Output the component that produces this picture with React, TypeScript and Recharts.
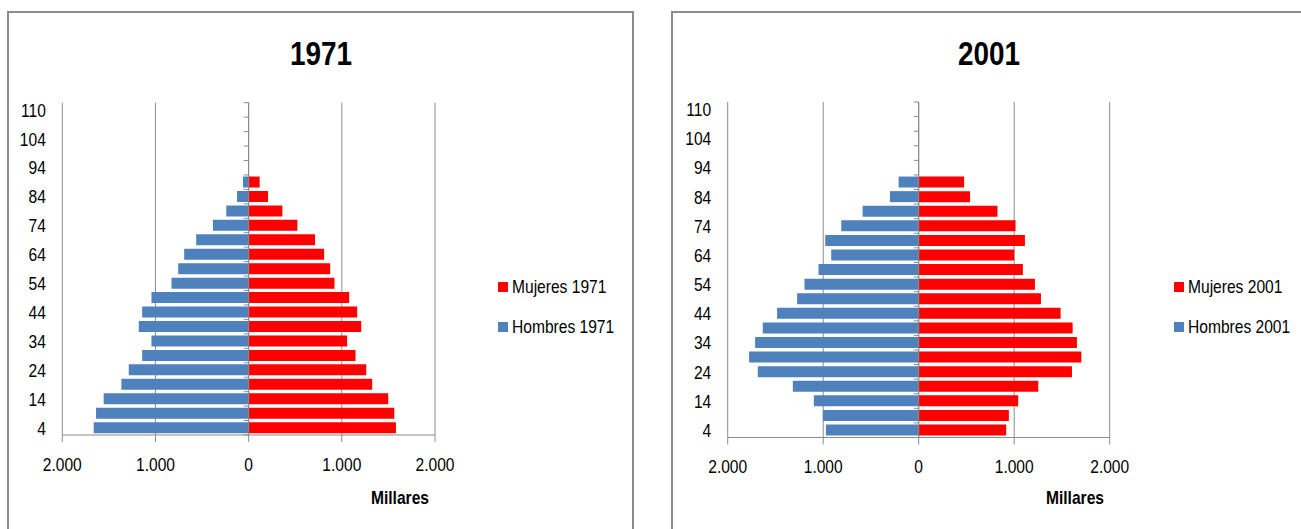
import React from 'react';
import { BarChart, Bar, XAxis, YAxis, CartesianGrid, ReferenceLine, Legend } from 'recharts';

// Age groups (upper bound of each five-year band, last one open-ended)
const ageGroups = ['4', '9', '14', '19', '24', '29', '34', '39', '44', '49', '54', '59', '64', '69', '74', '79', '84', '89', '94', '99', '104', '109', '110'];

// Population in thousands, youngest group first
const hombres1971 = [1663, 1638, 1556, 1366, 1287, 1143, 1043, 1179, 1143, 1043, 828, 756, 692, 563, 383, 240, 125, 61, 0, 0, 0, 0, 0];
const mujeres1971 = [1581, 1563, 1498, 1326, 1262, 1147, 1057, 1208, 1165, 1079, 921, 875, 810, 713, 523, 362, 208, 118, 0, 0, 0, 0, 0];
const hombres2001 = [972, 1003, 1098, 1318, 1685, 1776, 1713, 1633, 1483, 1273, 1196, 1049, 916, 979, 811, 587, 301, 210, 0, 0, 0, 0, 0];
const mujeres2001 = [916, 944, 1042, 1252, 1605, 1703, 1657, 1612, 1486, 1280, 1217, 1091, 1000, 1112, 1014, 825, 538, 476, 0, 0, 0, 0, 0];

const xTicks = [-2000, -1000, 0, 1000, 2000];

// Liberation Sans squeezed horizontally stands in for a narrow sans
const FONT = "'Liberation Sans', Arial, sans-serif";
const NARROW = 0.82;
const GRAY = '#8c8c8c';
const BLUE = '#4f81bd';
const RED = '#ff0000';
const TICK_FONT_SIZE = 19;

type Row = { age: string; hombres: number; mujeres: number };

const buildRows = (men: number[], women: number[]): Row[] =>
  ageGroups.map((age, i) => ({ age, hombres: -(men[i] ?? 0), mujeres: women[i] ?? 0 }));

// Absolute value with a dot as thousands separator (2.000, 1.000, 0 ...)
const formatThousands = (v: number) => {
  const a = Math.abs(v);
  if (a < 1000) return String(a);
  return `${Math.floor(a / 1000)}.${String(a % 1000).padStart(3, '0')}`;
};

const ValueTick = (props: any) => {
  const { x, y, payload } = props;
  return (
    <text
      transform={`translate(${x},${y}) scale(${NARROW},1)`}
      textAnchor="middle"
      dy="0.71em"
      fontFamily={FONT}
      fontSize={TICK_FONT_SIZE}
      fill="#000"
    >
      {formatThousands(Number(payload.value))}
    </text>
  );
};

const AgeTick = (props: any) => {
  const { x, y, payload } = props;
  return (
    <text
      transform={`translate(${x},${y}) scale(${NARROW},1)`}
      textAnchor="end"
      dy="0.355em"
      fontFamily={FONT}
      fontSize={TICK_FONT_SIZE}
      fill="#000"
    >
      {payload.value}
    </text>
  );
};

// Vertical category axis at zero with tick marks between the age bands
const CenterAxis = (props: any) => {
  const { x1, y1, y2 } = props;
  const top = Math.min(y1, y2);
  const bottom = Math.max(y1, y2);
  const step = (bottom - top) / ageGroups.length;
  const marks = [];
  for (let i = 0; i <= ageGroups.length; i++) {
    const y = top + i * step;
    marks.push(<line key={i} x1={x1 - 5} x2={x1} y1={y} y2={y} stroke={GRAY} strokeWidth={1} />);
  }
  return (
    <g>
      <line x1={x1} x2={x1} y1={top} y2={bottom} stroke={GRAY} strokeWidth={1} />
      {marks}
    </g>
  );
};

const PyramidLegend = (props: any) => {
  const items = [...(props.payload || [])].reverse();
  return (
    <div style={{ fontFamily: FONT, fontSize: TICK_FONT_SIZE, color: '#000' }}>
      {items.map((e: any, i: number) => (
        <div
          key={e.value}
          style={{ display: 'flex', alignItems: 'center', height: 20, marginBottom: i === 0 ? 19.5 : 0, whiteSpace: 'nowrap' }}
        >
          <span style={{ display: 'inline-block', width: 10, height: 10, background: e.color, marginRight: 4, flex: 'none' }} />
          <span style={{ display: 'inline-block', transform: `scaleX(${NARROW})`, transformOrigin: 'left center' }}>
            {e.value}
          </span>
        </div>
      ))}
    </div>
  );
};

type PanelProps = {
  year: string;
  rows: Row[];
  left: number;
  width: number;
  plotLeft: number;
  plotRight: number;
  plotTop: number;
  plotBottom: number;
  titleX: number;
  unitX: number;
  unitY: number;
  legendX: number;
  legendY: number;
};

const HEIGHT = 529;
const X_AXIS_HEIGHT = 40;

const captionStyle = (x: number, y: number, size: number): React.CSSProperties => ({
  position: 'absolute',
  left: x,
  top: y,
  transform: `translate(-50%, -50%) scaleX(${NARROW})`,
  fontFamily: FONT,
  fontWeight: 'bold',
  fontSize: size,
  lineHeight: 1,
  color: '#000',
  whiteSpace: 'nowrap',
});

const Pyramid = (p: PanelProps) => {
  const margin = {
    top: p.plotTop,
    right: p.width - p.plotRight,
    bottom: HEIGHT - p.plotBottom - X_AXIS_HEIGHT,
    left: 0,
  };
  return (
    <div style={{ position: 'absolute', left: p.left, top: 0, width: p.width, height: HEIGHT }}>
      <BarChart
        width={p.width}
        height={HEIGHT}
        data={p.rows}
        layout="vertical"
        stackOffset="sign"
        barCategoryGap="11%"
        margin={margin}
      >
        <CartesianGrid horizontal={false} vertical stroke={GRAY} strokeWidth={1} />
        <XAxis
          type="number"
          domain={[-2000, 2000]}
          ticks={xTicks}
          height={X_AXIS_HEIGHT}
          axisLine={{ stroke: GRAY }}
          tickLine={{ stroke: GRAY }}
          tickSize={7}
          tickMargin={15.5}
          tick={ValueTick}
          allowDataOverflow
        />
        <YAxis
          type="category"
          dataKey="age"
          reversed
          width={p.plotLeft}
          interval={1}
          axisLine={false}
          tickLine={false}
          tickSize={0}
          tickMargin={16.5}
          tick={AgeTick}
        />
        <Bar dataKey="hombres" name={`Hombres ${p.year}`} stackId="pop" fill={BLUE} isAnimationActive={false} />
        <Bar dataKey="mujeres" name={`Mujeres ${p.year}`} stackId="pop" fill={RED} isAnimationActive={false} />
        <ReferenceLine x={0} stroke={GRAY} shape={CenterAxis} />
        <Legend
          layout="vertical"
          align="center"
          verticalAlign="middle"
          content={PyramidLegend}
          wrapperStyle={{ left: p.legendX, top: p.legendY, width: 140, height: 'auto' }}
        />
      </BarChart>
      <div style={captionStyle(p.titleX, 53.3, 34)}>{p.year}</div>
      <div style={captionStyle(p.unitX, p.unitY, 19)}>Millares</div>
    </div>
  );
};

export default function App() {
  const rows1971 = buildRows(hombres1971, mujeres1971);
  const rows2001 = buildRows(hombres2001, mujeres2001);
  return (
    <div
      style={{
        position: 'absolute',
        left: 0,
        top: 0,
        width: 1301,
        height: HEIGHT,
        overflow: 'hidden',
        background: '#fff',
      }}
    >
      <div
        style={{
          position: 'absolute',
          left: 7,
          top: 11,
          width: 627,
          height: 560,
          border: `2px solid ${GRAY}`,
          boxSizing: 'border-box',
        }}
      />
      <div
        style={{
          position: 'absolute',
          left: 671,
          top: 11,
          width: 700,
          height: 560,
          border: `2px solid ${GRAY}`,
          boxSizing: 'border-box',
        }}
      />
      <Pyramid
        year="1971"
        rows={rows1971}
        left={0}
        width={640}
        plotLeft={62.3}
        plotRight={435}
        plotTop={102.7}
        plotBottom={435}
        titleX={320.7}
        unitX={400}
        unitY={496.7}
        legendX={498}
        legendY={277}
      />
      <Pyramid
        year="2001"
        rows={rows2001}
        left={640}
        width={661}
        plotLeft={87.7}
        plotRight={469.7}
        plotTop={102}
        plotBottom={437.5}
        titleX={349}
        unitX={435}
        unitY={497.3}
        legendX={534}
        legendY={277}
      />
    </div>
  );
}
